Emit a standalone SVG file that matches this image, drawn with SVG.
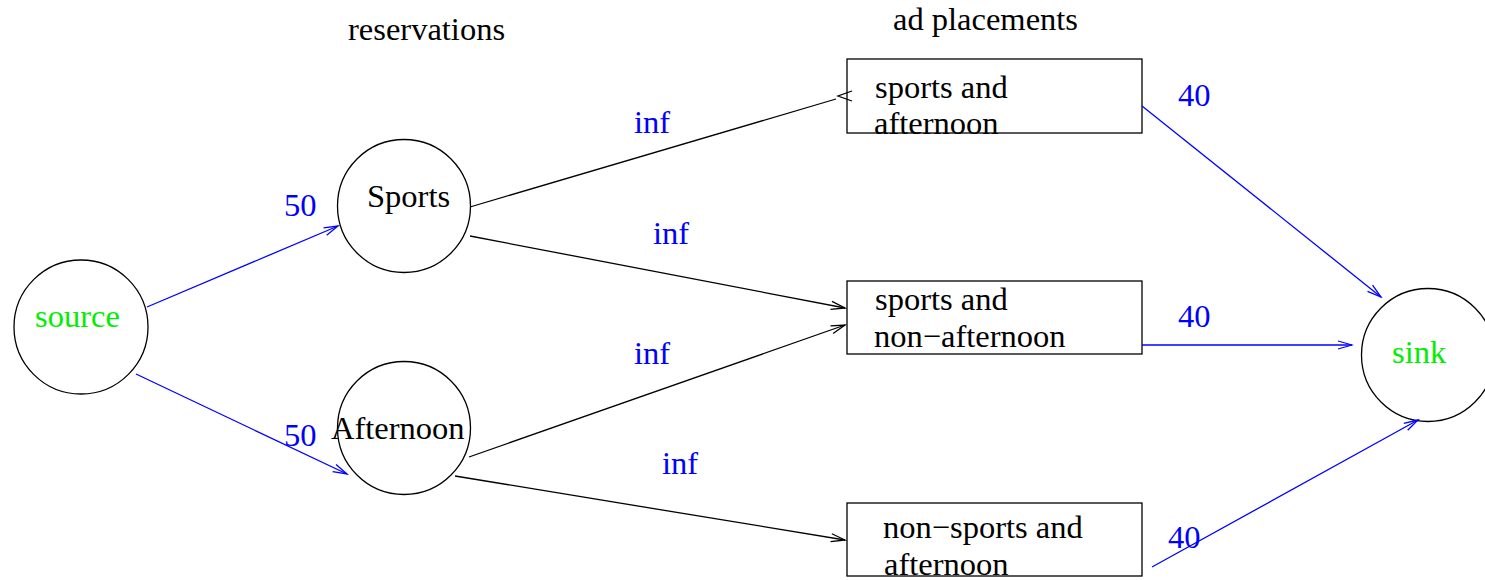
<svg xmlns="http://www.w3.org/2000/svg" width="1485" height="580" viewBox="0 0 1485 580">
  <style>
    text { font-family: "Liberation Serif", "Times New Roman", serif; font-size: 32.5px; }
    .lbl { fill: #000; }
    .cap { fill: #0000ff; }
    .term { fill: #00ee00; }
    .node { fill: #fff; stroke: #000; stroke-width: 1.3; }
    .edge { fill: none; stroke: #000; stroke-width: 1.3; }
    .flow { fill: none; stroke: #0000ff; stroke-width: 1.3; }
  </style>
  <defs>
    <marker id="arrK" viewBox="-16 -6 18 12" markerWidth="18" markerHeight="12" refX="0" refY="0" orient="auto" markerUnits="userSpaceOnUse">
      <path d="M-14,-4 L0,0 L-14,4" fill="none" stroke="#000" stroke-width="1.3"/>
    </marker>
    <marker id="arrB" viewBox="-16 -6 18 12" markerWidth="18" markerHeight="12" refX="0" refY="0" orient="auto" markerUnits="userSpaceOnUse">
      <path d="M-14,-4 L0,0 L-14,4" fill="none" stroke="#0000ff" stroke-width="1.3"/>
    </marker>
  </defs>

  <rect width="1485" height="580" fill="#fff"/>

  <!-- column headings -->
  <text class="lbl" x="348" y="40">reservations</text>
  <text class="lbl" x="893" y="30">ad placements</text>

  <g id="source">
    <circle class="node" cx="81" cy="327" r="67"/>
    <text class="term" x="35" y="327">source</text>
  </g>

  <g id="sports">
    <circle class="node" cx="404" cy="206" r="66.5"/>
    <text class="lbl" x="367" y="207">Sports</text>
  </g>

  <g id="afternoon">
    <circle class="node" cx="404" cy="428" r="66.5"/>
    <text class="lbl" x="331" y="439">Afternoon</text>
  </g>

  <g id="sports-afternoon">
    <rect class="node" x="847" y="59" width="295" height="74"/>
    <text class="lbl" x="875" y="98">sports and</text>
    <text class="lbl" x="874" y="134">afternoon</text>
  </g>

  <g id="sports-non-afternoon">
    <rect class="node" x="847" y="281" width="295" height="73"/>
    <text class="lbl" x="875" y="310">sports and</text>
    <text class="lbl" x="874" y="347">non−afternoon</text>
  </g>

  <g id="non-sports-afternoon">
    <rect class="node" x="847" y="503" width="295" height="73"/>
    <text class="lbl" x="883" y="538">non−sports and</text>
    <text class="lbl" x="884" y="575">afternoon</text>
  </g>

  <g id="sink">
    <circle class="node" cx="1428" cy="355" r="66.5"/>
    <text class="term" x="1392" y="363">sink</text>
  </g>

  <!-- connectors, drawn over the nodes -->
  <g id="connectors">
    <line class="flow" x1="147" y1="307" x2="338" y2="226" marker-end="url(#arrB)"/>
    <line class="flow" x1="136" y1="374" x2="347" y2="474" marker-end="url(#arrB)"/>
    <line class="edge" x1="470" y1="207" x2="836" y2="99"/>
    <!-- reversed head at the end of the Sports -> sports and afternoon edge -->
    <path class="edge" d="M852,91 L838,96 L852,101"/>
    <line class="edge" x1="470" y1="236" x2="845" y2="308" marker-end="url(#arrK)"/>
    <line class="edge" x1="469" y1="457" x2="845" y2="325" marker-end="url(#arrK)"/>
    <line class="edge" x1="455" y1="476" x2="845" y2="540" marker-end="url(#arrK)"/>
    <line class="flow" x1="1142" y1="106" x2="1381" y2="297" marker-end="url(#arrB)"/>
    <line class="flow" x1="1142" y1="345" x2="1352" y2="345" marker-end="url(#arrB)"/>
    <line class="flow" x1="1152" y1="567" x2="1418" y2="420" marker-end="url(#arrB)"/>

    <text class="cap" x="284" y="216">50</text>
    <text class="cap" x="284" y="446">50</text>
    <text class="cap" x="634" y="133">inf</text>
    <text class="cap" x="653" y="244">inf</text>
    <text class="cap" x="634" y="364">inf</text>
    <text class="cap" x="662" y="474">inf</text>
    <text class="cap" x="1178" y="106">40</text>
    <text class="cap" x="1178" y="327">40</text>
    <text class="cap" x="1168" y="548">40</text>
  </g>
</svg>
